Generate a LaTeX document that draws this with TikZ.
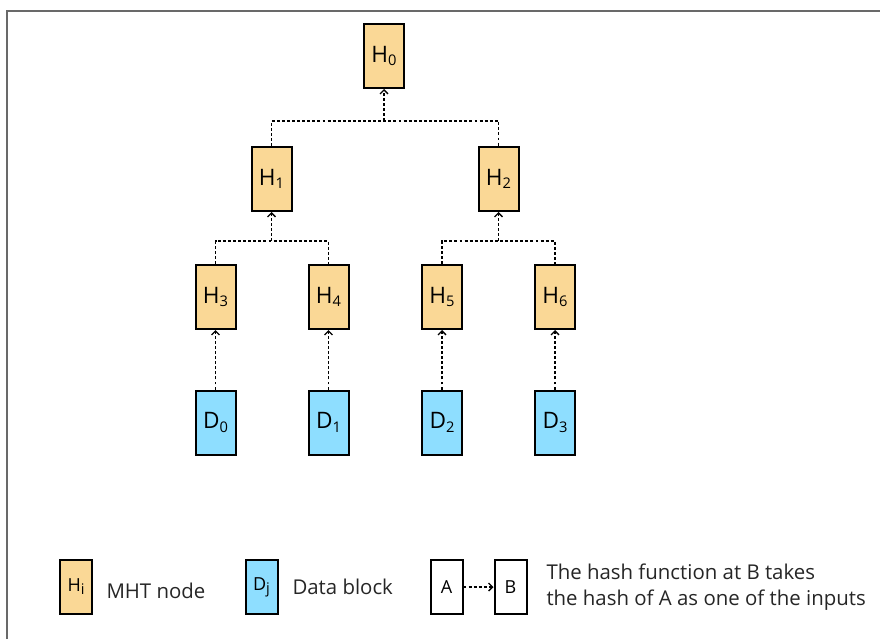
\documentclass[tikz,border=0pt]{standalone}
\usepackage{fontspec}
\setmainfont{Open Sans}
\usetikzlibrary{arrows.meta}

\definecolor{mhtfill}{RGB}{250,216,150}
\definecolor{datafill}{RGB}{142,222,255}
\definecolor{framegray}{RGB}{105,105,105}

\tikzset{every picture/.style={line width=0.75pt}}
\tikzset{
  hashbox/.style={draw=black,line width=1.5pt,fill=mhtfill,minimum width=30pt,minimum height=48pt,inner sep=0pt,font=\fontsize{17}{20}\selectfont},
  databox/.style={hashbox,fill=datafill},
  legbox/.style={draw=black,line width=1.5pt,minimum width=24pt,minimum height=40.5pt,inner sep=0pt,font=\fontsize{13.5}{16}\selectfont},
  link/.style={line width=1.3pt,dash pattern=on 2.2pt off 1.6pt},
  hasharrow/.style={link,-{Straight Barb[length=3pt,width=6pt,line width=1pt]}},
  legtext/.style={anchor=west,inner sep=0pt,font=\fontsize{15.3}{20}\selectfont,text=black!85}
}
\newcommand{\hsub}[2]{#1\raisebox{-0.3ex}{\fontsize{11}{11}\selectfont #2}}

\begin{document}
\begin{tikzpicture}[x=0.75pt,y=0.75pt,yscale=-1,xscale=1]
\useasboundingbox (0,0) rectangle (880,639);

%Frame
\draw [color=framegray,line width=1.6pt] (7,639) -- (7,11) -- (880,11);

%Tree nodes
\node [hashbox] (h0) at (384,56) {\hsub{H}{0}};
\node [hashbox] (h1) at (271.5,179) {\hsub{H}{1}};
\node [hashbox] (h2) at (498.5,179) {\hsub{H}{2}};
\node [hashbox] (h3) at (215.5,297) {\hsub{H}{3}};
\node [hashbox] (h4) at (328.5,297) {\hsub{H}{4}};
\node [hashbox] (h5) at (442,297) {\hsub{H}{5}};
\node [hashbox] (h6) at (555,297) {\hsub{H}{6}};
%Data blocks
\node [databox] (d0) at (215.5,422.5) {\hsub{D}{0}};
\node [databox] (d1) at (328.5,422.5) {\hsub{D}{1}};
\node [databox] (d2) at (442,422.5) {\hsub{D}{2}};
\node [databox] (d3) at (555,422.5) {\hsub{D}{3}};

%Junctions
\coordinate (j0) at (384,121);
\coordinate (j1) at (271.5,241);
\coordinate (j2) at (498.5,241);

%Links
\draw [link] (h1.north) |- (j0) -| (h2.north);
\draw [hasharrow] (j0) -- (h0.south);
\draw [link] (h3.north) |- (j1) -| (h4.north);
\draw [hasharrow] (j1) -- (h1.south);
\draw [link] (h5.north) |- (j2) -| (h6.north);
\draw [hasharrow] (j2) -- (h2.south);
\foreach \i in {0,...,3}
  \draw [hasharrow] (d\i.north) -- (h\the\numexpr\i+3\relax.south);

%Legend
\node [legbox,fill=mhtfill] (lh) at (76,587) {\hsub{H}{i}};
\node [legtext] (lhtext) at (106,591) {MHT node};
\node [legbox,fill=datafill] (ld) at (261.5,587) {\hsub{D}{j}};
\node [legtext] (ldtext) at (292,587) {Data block};
\node [legbox] (la) at (446.5,587) {A};
\node [legbox] (lb) at (510.5,587) {B};
\draw [hasharrow] (la.east) -- (lb.west);
\node [legtext,align=left] (lbtext) at (546,587) {The hash function at B takes\\the hash of A as one of the inputs};

\end{tikzpicture}
\end{document}
